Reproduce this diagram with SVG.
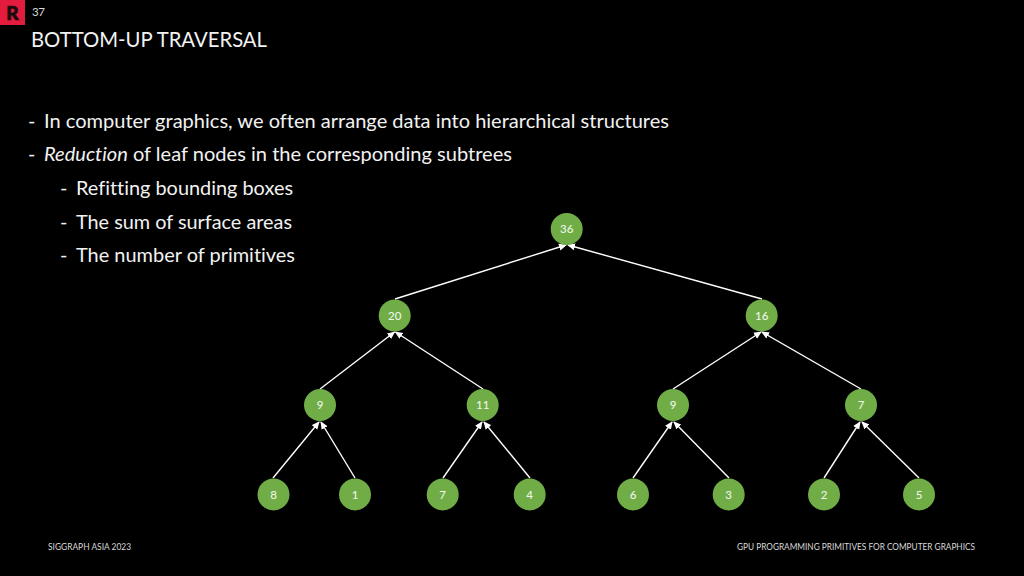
<svg xmlns="http://www.w3.org/2000/svg" width="1024" height="576" viewBox="0 0 1024 576">
<style>
text{font-family:Lato,"Open Sans","Liberation Sans",sans-serif;fill:#fff;font-variant-ligatures:none}
.b{font-size:20px;fill:#f2f2f2}
.f{font-size:9px;fill:#d9d9d9}
.n circle{fill:#70ad47}
.n text{font-size:11.5px;font-weight:500;text-anchor:middle;fill:#eef5e9}
#connectors line{stroke:#fff;stroke-width:1.4;marker-end:url(#a)}
</style>
<defs><marker id="a" markerUnits="userSpaceOnUse" markerWidth="8" markerHeight="8" refX="7" refY="4" orient="auto"><path d="M0 0.5L8 4L0 7.5Z" fill="#fff"/></marker></defs>
<rect width="1024" height="576" fill="#000"/>
<g id="logo"><rect width="25" height="25" fill="#e31c3d"/><text x="12.5" y="20" font-size="19" font-weight="900" text-anchor="middle" stroke="#1a0a0c" stroke-width="0.7" style="fill:#1a0a0c">R</text></g>
<text x="32" y="16" font-size="11.5" style="fill:#d9d9d9" textLength="13">37</text>
<text x="31" y="47" font-size="22" textLength="236" lengthAdjust="spacingAndGlyphs" style="fill:#f2f2f2">BOTTOM-UP TRAVERSAL</text>
<g id="body">
<text class="b" x="28" y="127.5">-</text><text class="b" x="44" y="127.5" textLength="625" lengthAdjust="spacingAndGlyphs">In computer graphics, we often arrange data into hierarchical structures</text>
<text class="b" x="28" y="161">-</text><text class="b" x="44" y="161" textLength="468" lengthAdjust="spacingAndGlyphs"><tspan font-style="italic">Reduction</tspan> of leaf nodes in the corresponding subtrees</text>
<text class="b" x="60" y="195">-</text><text class="b" x="76" y="195" textLength="217" lengthAdjust="spacingAndGlyphs">Refitting bounding boxes</text>
<text class="b" x="60" y="228.5">-</text><text class="b" x="76" y="228.5" textLength="216" lengthAdjust="spacingAndGlyphs">The sum of surface areas</text>
<text class="b" x="60" y="262">-</text><text class="b" x="76" y="262" textLength="219" lengthAdjust="spacingAndGlyphs">The number of primitives</text>
</g>
<g id="connectors">
<line x1="395" y1="299" x2="566" y2="245"/><line x1="762" y1="299" x2="568" y2="245"/>
<line x1="320" y1="389" x2="394.5" y2="332"/><line x1="483" y1="389" x2="395.5" y2="332"/>
<line x1="673" y1="389" x2="761" y2="332"/><line x1="861" y1="389" x2="762" y2="332"/>
<line x1="273" y1="478" x2="319" y2="422"/><line x1="355" y1="478" x2="321" y2="422"/>
<line x1="443" y1="478" x2="482" y2="422"/><line x1="530" y1="478" x2="484" y2="422"/>
<line x1="633" y1="478" x2="672" y2="422"/><line x1="729" y1="478" x2="674" y2="422"/>
<line x1="824" y1="478" x2="860" y2="422"/><line x1="919" y1="478" x2="862" y2="422"/>
</g>
<g id="n36" class="n"><circle cx="566.7" cy="229" r="16"/><text x="566.7" y="233">36</text></g>
<g id="n20" class="n"><circle cx="394.7" cy="315.5" r="16"/><text x="394.7" y="319.5">20</text></g>
<g id="n16" class="n"><circle cx="761.7" cy="315.5" r="16"/><text x="761.7" y="319.5">16</text></g>
<g id="n9a" class="n"><circle cx="320" cy="405" r="16"/><text x="320" y="409">9</text></g>
<g id="n11" class="n"><circle cx="482.7" cy="405" r="16"/><text x="482.7" y="409">11</text></g>
<g id="n9b" class="n"><circle cx="673" cy="405" r="16"/><text x="673" y="409">9</text></g>
<g id="n7a" class="n"><circle cx="861" cy="405" r="16"/><text x="861" y="409">7</text></g>
<g id="l8" class="n"><circle cx="273.5" cy="494.5" r="16"/><text x="273.5" y="498.5">8</text></g>
<g id="l1" class="n"><circle cx="355" cy="494.5" r="16"/><text x="355" y="498.5">1</text></g>
<g id="l7" class="n"><circle cx="442.7" cy="494.5" r="16"/><text x="442.7" y="498.5">7</text></g>
<g id="l4" class="n"><circle cx="529.7" cy="494.5" r="16"/><text x="529.7" y="498.5">4</text></g>
<g id="l6" class="n"><circle cx="633" cy="494.5" r="16"/><text x="633" y="498.5">6</text></g>
<g id="l3" class="n"><circle cx="728.7" cy="494.5" r="16"/><text x="728.7" y="498.5">3</text></g>
<g id="l2" class="n"><circle cx="824" cy="494.5" r="16"/><text x="824" y="498.5">2</text></g>
<g id="l5" class="n"><circle cx="919" cy="494.5" r="16"/><text x="919" y="498.5">5</text></g>
<text class="f" x="48" y="550" textLength="83" lengthAdjust="spacingAndGlyphs">SIGGRAPH ASIA 2023</text>
<text class="f" x="737" y="550" textLength="238" lengthAdjust="spacingAndGlyphs">GPU PROGRAMMING PRIMITIVES FOR COMPUTER GRAPHICS</text>
</svg>
